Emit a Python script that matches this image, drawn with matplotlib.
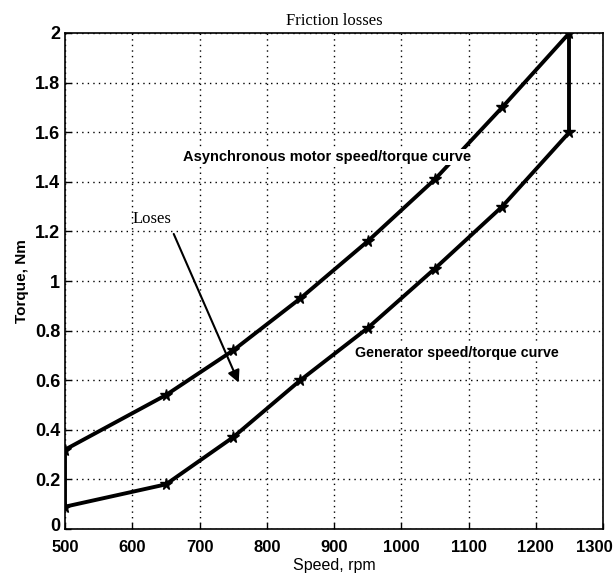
import numpy as np
import matplotlib.pyplot as plt
import matplotlib.transforms as mtransforms

# speed (rpm) and torque (Nm) readings
speed = [500, 650, 750, 850, 950, 1050, 1150, 1250]
motor_torque = [0.32, 0.54, 0.72, 0.93, 1.16, 1.41, 1.70, 2.00]
gen_torque = [0.09, 0.18, 0.37, 0.60, 0.81, 1.05, 1.30, 1.60]

xticks = [500, 600, 700, 800, 900, 1000, 1100, 1200, 1300]
yticks = [0, 0.2, 0.4, 0.6, 0.8, 1, 1.2, 1.4, 1.6, 1.8, 2]
ytick_labels = ["0", "0.2", "0.4", "0.6", "0.8", "1", "1.2", "1.4", "1.6", "1.8", "2"]

plt.rcParams['font.family'] = ['Liberation Sans', 'DejaVu Sans']

fig = plt.figure(figsize=(6.15, 5.85), dpi=100)
ax = fig.add_axes([0.1057, 0.0957, 0.8748, 0.8479])

# the two curves
ax.plot(speed, motor_torque, color='black', lw=2.8, marker='*', ms=8.5, zorder=3)
ax.plot(speed, gen_torque, color='black', lw=2.8, marker='*', ms=8.5, zorder=3)

# vertical loss bars at both ends
for i in (0, -1):
    ax.plot([speed[i], speed[i]], [gen_torque[i], motor_torque[i]], color='black', lw=2.8, zorder=3)

ax.set_xlim(500, 1300)
ax.set_ylim(0, 2)
ax.set_xticks(xticks)
ax.set_yticks(yticks)
ax.set_yticklabels(ytick_labels)
ax.tick_params(direction='in', length=4, width=1)
ax.tick_params(axis='x', pad=8)
ax.grid(True, color='black', linestyle=(0, (1, 3)), lw=1)
for s in ax.spines.values():
    s.set_linewidth(1.2)
for lab in ax.get_yticklabels():
    lab.set_fontweight('bold')
    lab.set_fontsize(13)
for lab in ax.get_xticklabels():
    lab.set_fontweight('bold')
    lab.set_fontsize(12)

# nudge the last x label left so it stays inside the figure
last = ax.get_xticklabels()[-1]
last.set_transform(last.get_transform() + mtransforms.ScaledTranslation(-6 / 72, 0, fig.dpi_scale_trans))
# lift the zero label a little off the x labels
zero = ax.get_yticklabels()[0]
zero.set_transform(zero.get_transform() + mtransforms.ScaledTranslation(0, 3 / 72, fig.dpi_scale_trans))

ax.set_xlabel("Speed, rpm", fontsize=11.5, labelpad=2)
ax.set_ylabel("Torque, Nm", fontsize=11, fontweight='bold', labelpad=4)
ax.set_title("Friction losses", fontsize=12, family='Liberation Serif', pad=6)

# curve labels on white boxes
ax.text(675, 1.5, "Asynchronous motor speed/torque curve", fontsize=10.5, fontweight='bold',
        va='center', ha='left', zorder=4,
        bbox=dict(facecolor='white', edgecolor='none', pad=1))
ax.text(931, 0.71, "Generator speed/torque curve", fontsize=10.3, fontweight='bold',
        va='center', ha='left', zorder=4,
        bbox=dict(facecolor='white', edgecolor='none', pad=1))

ax.text(601, 1.25, "Loses", fontsize=12, family='Liberation Serif', va='center', ha='left')
ax.annotate("", xy=(760, 0.58), xytext=(660, 1.20),
            arrowprops=dict(arrowstyle='-|>', color='black', lw=1.5, mutation_scale=18),
            zorder=5)

fig.savefig("out.png", dpi=100)
